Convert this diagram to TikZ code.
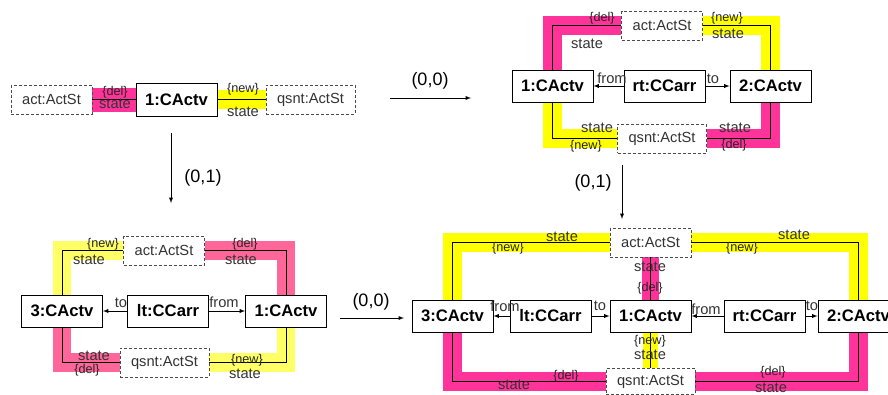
\documentclass[tikz,border=0pt]{standalone}
\usepackage{fontspec}
\setmainfont{Liberation Sans}
\usepackage{xcolor}
\usepackage{tikz}
\usetikzlibrary{backgrounds}
\definecolor{hlpink}{HTML}{FF3399}
\definecolor{hlyellow}{HTML}{FFFF00}
\definecolor{hlpinklight}{HTML}{FF6699}
\definecolor{hlyellowlight}{HTML}{FFFF66}
\tikzstyle{arrow} = [-latex]
\tikzstyle{obj} = [draw, fill=white, minimum width=61pt, minimum height=24pt, inner sep=0pt, font=\fontsize{12.5}{14}\selectfont\bfseries]
\tikzstyle{st} = [draw=black!70, dash pattern=on 2.25pt off 1.5pt, fill=white, minimum height=21.75pt, inner xsep=8.25pt, inner ysep=0pt, font=\fontsize{11}{13}\selectfont, text=black!80]
\tikzstyle{role} = [inner sep=0pt, font=\fontsize{11}{13}\selectfont, text=black!80]
\tikzstyle{tag} = [inner sep=0pt, font=\fontsize{9.5}{11}\selectfont, text=black!85]
\tikzstyle{move} = [inner sep=0pt, font=\fontsize{13.5}{16}\selectfont]
\tikzstyle{hl} = [line width=14pt]

\begin{document}
\begin{tikzpicture}[x=0.75pt, y=-0.75pt, node distance=75pt]
	\useasboundingbox (0,0) rectangle (888,394);

	\node (1c1) [obj, minimum height=24.75pt] at (176.5,99.5) {1:CActv};
	\node (1act) [st, left of=1c1, xshift=-18.75pt] {act:ActSt};
	\node (1qsnt) [st, right of=1c1, xshift=25.5pt] {qsnt:ActSt};

	\begin{scope}[on background layer]
		\draw [hl, hlpink, line width=18pt, yshift=1.5pt] (1act.east) -- (1c1.west);
		\draw [hl, hlyellow] (1c1.east) -- (1qsnt.west);
	\end{scope}
	\draw (1act) -- (1c1);
	\draw (1c1) -- (1qsnt);
	\node (1del) [tag] at (115,92) {\{del\}};
	\node (1state1) [role] at (115,104) {state};
	\node (1new) [tag] at (243,89) {\{new\}};
	\node (1state2) [role] at (243,112) {state};

	\coordinate (m1start) at (390,98);
	\coordinate (m1end) at (471,98);
	\draw [arrow] (m1start) -- (m1end);
	\node (m1lbl) [move] at (430,81) {(0,0)};

	\coordinate (m2start) at (171,133);
	\coordinate (m2end) at (171,203);
	\draw [arrow] (m2start) -- (m2end);
	\node (m2lbl) [move] at (203,178) {(0,1)};

	\node (2c1) [obj] at (552.5,86) {1:CActv};
	\node (2rt) [obj, right of=2c1, xshift=9pt] {rt:CCarr};
	\node (2c2) [obj, right of=2rt, xshift=4.5pt] {2:CActv};
	\node (2act) [st] at (662,25.5) {act:ActSt};
	\node (2qsnt) [st] at (662,138.5) {qsnt:ActSt};

	\begin{scope}[on background layer]
		\draw [hl, hlpink] (2c1.north) |- (2act.west);
		\draw [hl, hlyellow] (2act.east) -| (2c2.north);
		\draw [hl, hlyellow] (2c1.south) |- (2qsnt.west);
		\draw [hl, hlpink] (2qsnt.east) -| (2c2.south);
	\end{scope}
	\draw (2c1.north) |- (2act.west);
	\draw (2act.east) -| (2c2.north);
	\draw (2c1.south) |- (2qsnt.west);
	\draw (2qsnt.east) -| (2c2.south);
	\draw [arrow] (2rt) -- (2c1);
	\draw [arrow] (2rt) -- (2c2);
	\node (2del1) [tag] at (602,18) {\{del\}};
	\node (2state1) [role] at (587,44) {state};
	\node (2new1) [tag] at (727,18) {\{new\}};
	\node (2state2) [role] at (728,34) {state};
	\node (2from) [role] at (612,78) {from};
	\node (2to) [role] at (713,79) {to};
	\node (2state3) [role] at (597,128) {state};
	\node (2new2) [tag] at (586,146) {\{new\}};
	\node (2state4) [role] at (735,128) {state};
	\node (2del2) [tag] at (734,145) {\{del\}};

	\coordinate (m3start) at (622,165);
	\coordinate (m3end) at (622,219);
	\draw [arrow] (m3start) -- (m3end);
	\node (m3lbl) [move] at (593,183) {(0,1)};

	\node (3c3) [obj] at (62,311) {3:CActv};
	\node (3lt) [obj, right of=3c3, xshift=4.5pt] {lt:CCarr};
	\node (3c1) [obj, right of=3lt, xshift=13.5pt] {1:CActv};
	\node (3act) [st] at (164,250.5) {act:ActSt};
	\node (3qsnt) [st] at (164.5,362.5) {qsnt:ActSt};

	\begin{scope}[on background layer]
		\draw [hl, hlyellowlight] (3c3.north) |- (3act.west);
		\draw [hl, hlpinklight] (3act.east) -| (3c1.north);
		\draw [hl, hlpinklight] (3c3.south) |- (3qsnt.west);
		\draw [hl, hlyellowlight] (3qsnt.east) -| (3c1.south);
	\end{scope}
	\draw (3c3.north) |- (3act.west);
	\draw (3act.east) -| (3c1.north);
	\draw (3c3.south) |- (3qsnt.west);
	\draw (3qsnt.east) -| (3c1.south);
	\draw [arrow] (3lt) -- (3c3);
	\draw [arrow] (3lt) -- (3c1);
	\node (3new1) [tag] at (103,244) {\{new\}};
	\node (3state1) [role] at (89,260) {state};
	\node (3del1) [tag] at (245,244) {\{del\}};
	\node (3state2) [role] at (241,260) {state};
	\node (3to) [role] at (121,303) {to};
	\node (3from) [role] at (224,302) {from};
	\node (3state3) [role] at (94,355.5) {state};
	\node (3del2) [tag] at (87,370.5) {\{del\}};
	\node (3new2) [tag] at (247,360) {\{new\}};
	\node (3state4) [role] at (245,374) {state};

	\coordinate (m4start) at (340,318);
	\coordinate (m4end) at (404,318);
	\draw [arrow] (m4start) -- (m4end);
	\node (m4lbl) [move] at (371,302) {(0,0)};

	\node (4c3) [obj] at (452.5,316) {3:CActv};
	\node (4lt) [obj, right of=4c3, xshift=-1.5pt] {lt:CCarr};
	\node (4c1) [obj, right of=4lt] {1:CActv};
	\node (4rt) [obj, right of=4c1, xshift=10.5pt] {rt:CCarr};
	\node (4c2) [obj, right of=4rt, xshift=-4.5pt] {2:CActv};
	\node (4act) [st] at (650.5,242.5) {act:ActSt};
	\node (4qsnt) [st, minimum height=19.5pt] at (650.5,381.5) {qsnt:ActSt};

	\begin{scope}[on background layer]
		\draw [hl, hlyellow] (4c3.north) |- (4act.west);
		\draw [hl, hlyellow] (4act.east) -| (4c2.north);
		\draw [hl, hlpink] (4c3.south) |- (4qsnt.west);
		\draw [hl, hlpink] (4qsnt.east) -| (4c2.south);
		\draw [hl, hlpink, line width=13pt] (4act.south) -- (4c1.north);
		\draw [hl, hlyellow, line width=11pt] (4c1.south) -- (4qsnt.north);
	\end{scope}
	\draw (4c3.north) |- (4act.west);
	\draw (4act.east) -| (4c2.north);
	\draw (4c3.south) |- (4qsnt.west);
	\draw (4qsnt.east) -| (4c2.south);
	\draw (4act) -- (4c1);
	\draw (4c1) -- (4qsnt);
	\draw [arrow] (4lt) -- (4c3);
	\draw [arrow] (4lt) -- (4c1);
	\draw [arrow] (4rt) -- (4c1);
	\draw [arrow] (4rt) -- (4c2);
	\node (4state1) [role] at (562,237) {state};
	\node (4new1) [tag] at (508,248) {\{new\}};
	\node (4state2) [role] at (794,235) {state};
	\node (4new2) [tag] at (742,248) {\{new\}};
	\node (4state3) [role] at (650,267) {state};
	\node (4del1) [tag] at (650,288) {\{del\}};
	\node (4new3) [tag] at (650,341) {\{new\}};
	\node (4state4) [role] at (650,355) {state};
	\node (4del2) [tag] at (566,376) {\{del\}};
	\node (4state5) [role] at (514,385) {state};
	\node (4del3) [tag] at (773,372) {\{del\}};
	\node (4state6) [role] at (771,388) {state};
	\node (4from1) [role] at (505,306) {from};
	\node (4to1) [role] at (600,306) {to};
	\node (4from2) [role] at (706,309) {from};
	\node (4to2) [role] at (812,306) {to};
\end{tikzpicture}
\end{document}
